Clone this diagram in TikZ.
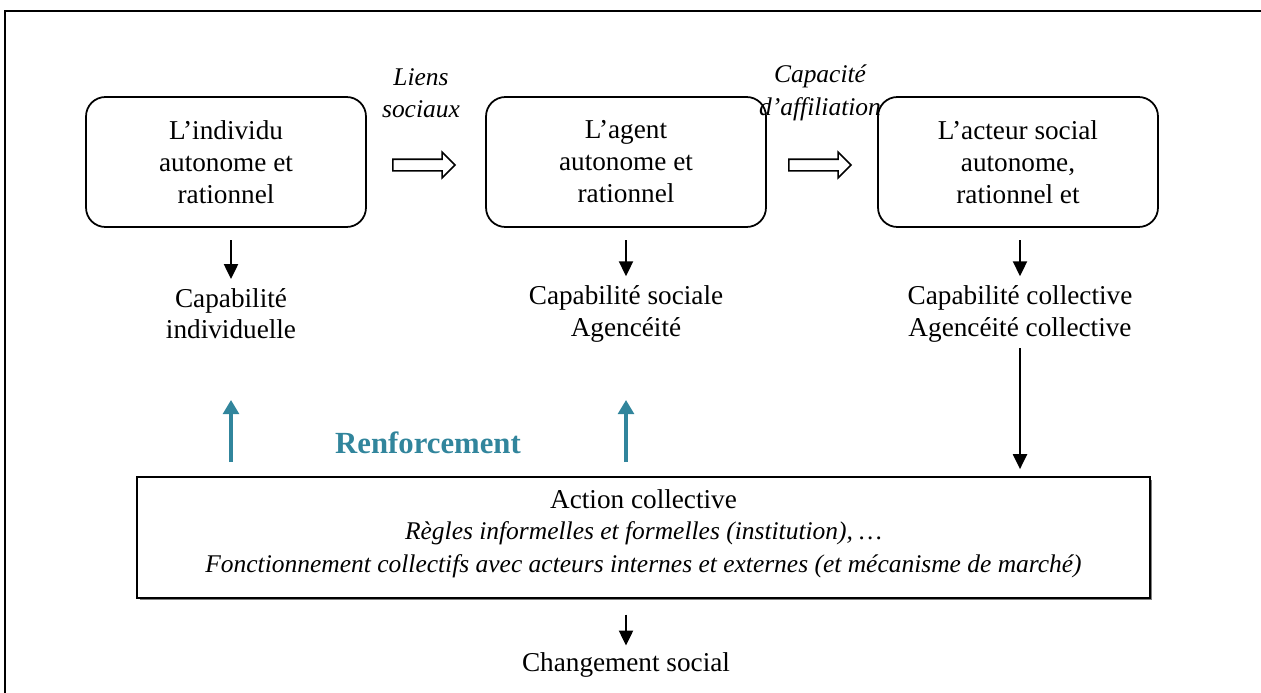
\documentclass[tikz,border=0pt]{standalone}
\usepackage{fontspec}
\setmainfont{Liberation Serif}
\usetikzlibrary{shapes.arrows,arrows.meta,shadows}

\definecolor{bleucanard}{RGB}{49,133,156}

\begin{document}
\begin{tikzpicture}[x=0.02cm,y=-0.02cm,
  boite/.style={draw,line width=1pt,rounded corners=11pt,minimum width=5.6cm,minimum height=2.6cm,align=center,font=\fontsize{15.5}{18.2}\selectfont},
  texte/.style={align=center,font=\fontsize{15.5}{17.8}\selectfont},
  lien/.style={align=center,font=\fontsize{14.5}{18.5}\selectfont\itshape},
  creuse/.style={draw,line width=0.9pt,single arrow,minimum height=1.24cm,single arrow head extend=0.14cm,inner sep=0.1cm},
  fleche/.style={line width=1.1pt,-{Triangle[length=8.5pt,width=8pt]}},
  renfort/.style={draw=bleucanard,line width=1.8pt,-{Triangle[length=8pt,width=9pt]}}]
\useasboundingbox (0,0) rectangle (1261,693);

%cadre
\draw[line width=1.2pt] (5,693) -- (5,11) -- (1261,11);

%les trois boites
\node[boite] (b1) at (226,162) {L’individu\\autonome et\\rationnel};
\node[boite] (b2) at (626,162) {L’agent\\autonome et\\rationnel};
\node[boite] (b3) at (1018,162) {L’acteur social\\autonome,\\rationnel et};

%fleches creuses
\node[lien] (liens) at (421,93) {Liens\\sociaux};
\node[creuse] (c1) at (421,165) {};
\node[lien] (affil) at (820,93) {Capacité\\d’affiliation};
\node[creuse] (c2) at (817,165) {};

%capabilites
\node[texte] (cap1) at (231,314) {Capabilité\\individuelle};
\node[texte] (cap2) at (626,314) {Capabilité sociale\\Agencéité};
\node[texte] (cap3) at (1020,314) {Capabilité collective\\Agencéité collective};
\draw[fleche,shorten <=7pt,shorten >=2pt] (b1.south -| cap1) -- (cap1.north);
\draw[fleche,shorten <=7pt,shorten >=2pt] (b2.south) -- (cap2.north);
\draw[fleche,shorten <=7pt,shorten >=2pt] (b3.south -| cap3) -- (cap3.north);

%action collective
\node[draw,line width=1pt,minimum width=20.26cm,minimum height=2.42cm,fill=white,
  drop shadow={shadow xshift=0.05cm,shadow yshift=-0.05cm,fill=gray,opacity=1}] (action) at (643.5,537.5) {};
\node[texte,font=\fontsize{15.5}{19}\selectfont] (act) at (643.5,499) {Action collective};
\node[lien] (regles) at (643.5,533) {Règles informelles et formelles (institution), …};
\node[lien] (fonct) at (643.5,566) {Fonctionnement collectifs avec acteurs internes et externes (et mécanisme de marché)};
\draw[fleche,shorten >=4pt] (cap3.south) -- (cap3.south |- action.north);

%renforcement
\coordinate (r1) at (231,400);
\coordinate (r2) at (626,400);
\draw[renfort,shorten <=8pt] (action.north -| r1) -- (r1);
\draw[renfort,shorten <=8pt] (action.north -| r2) -- (r2);
\node[font=\fontsize{17.5}{20}\selectfont\bfseries,text=bleucanard] (renf) at (428,443) {Renforcement};

%changement social
\node[texte] (chgt) at (626,665) {Changement social};
\draw[fleche,shorten <=9pt,shorten >=0.5pt] (action.south -| chgt) -- (chgt.north);

\end{tikzpicture}
\end{document}
